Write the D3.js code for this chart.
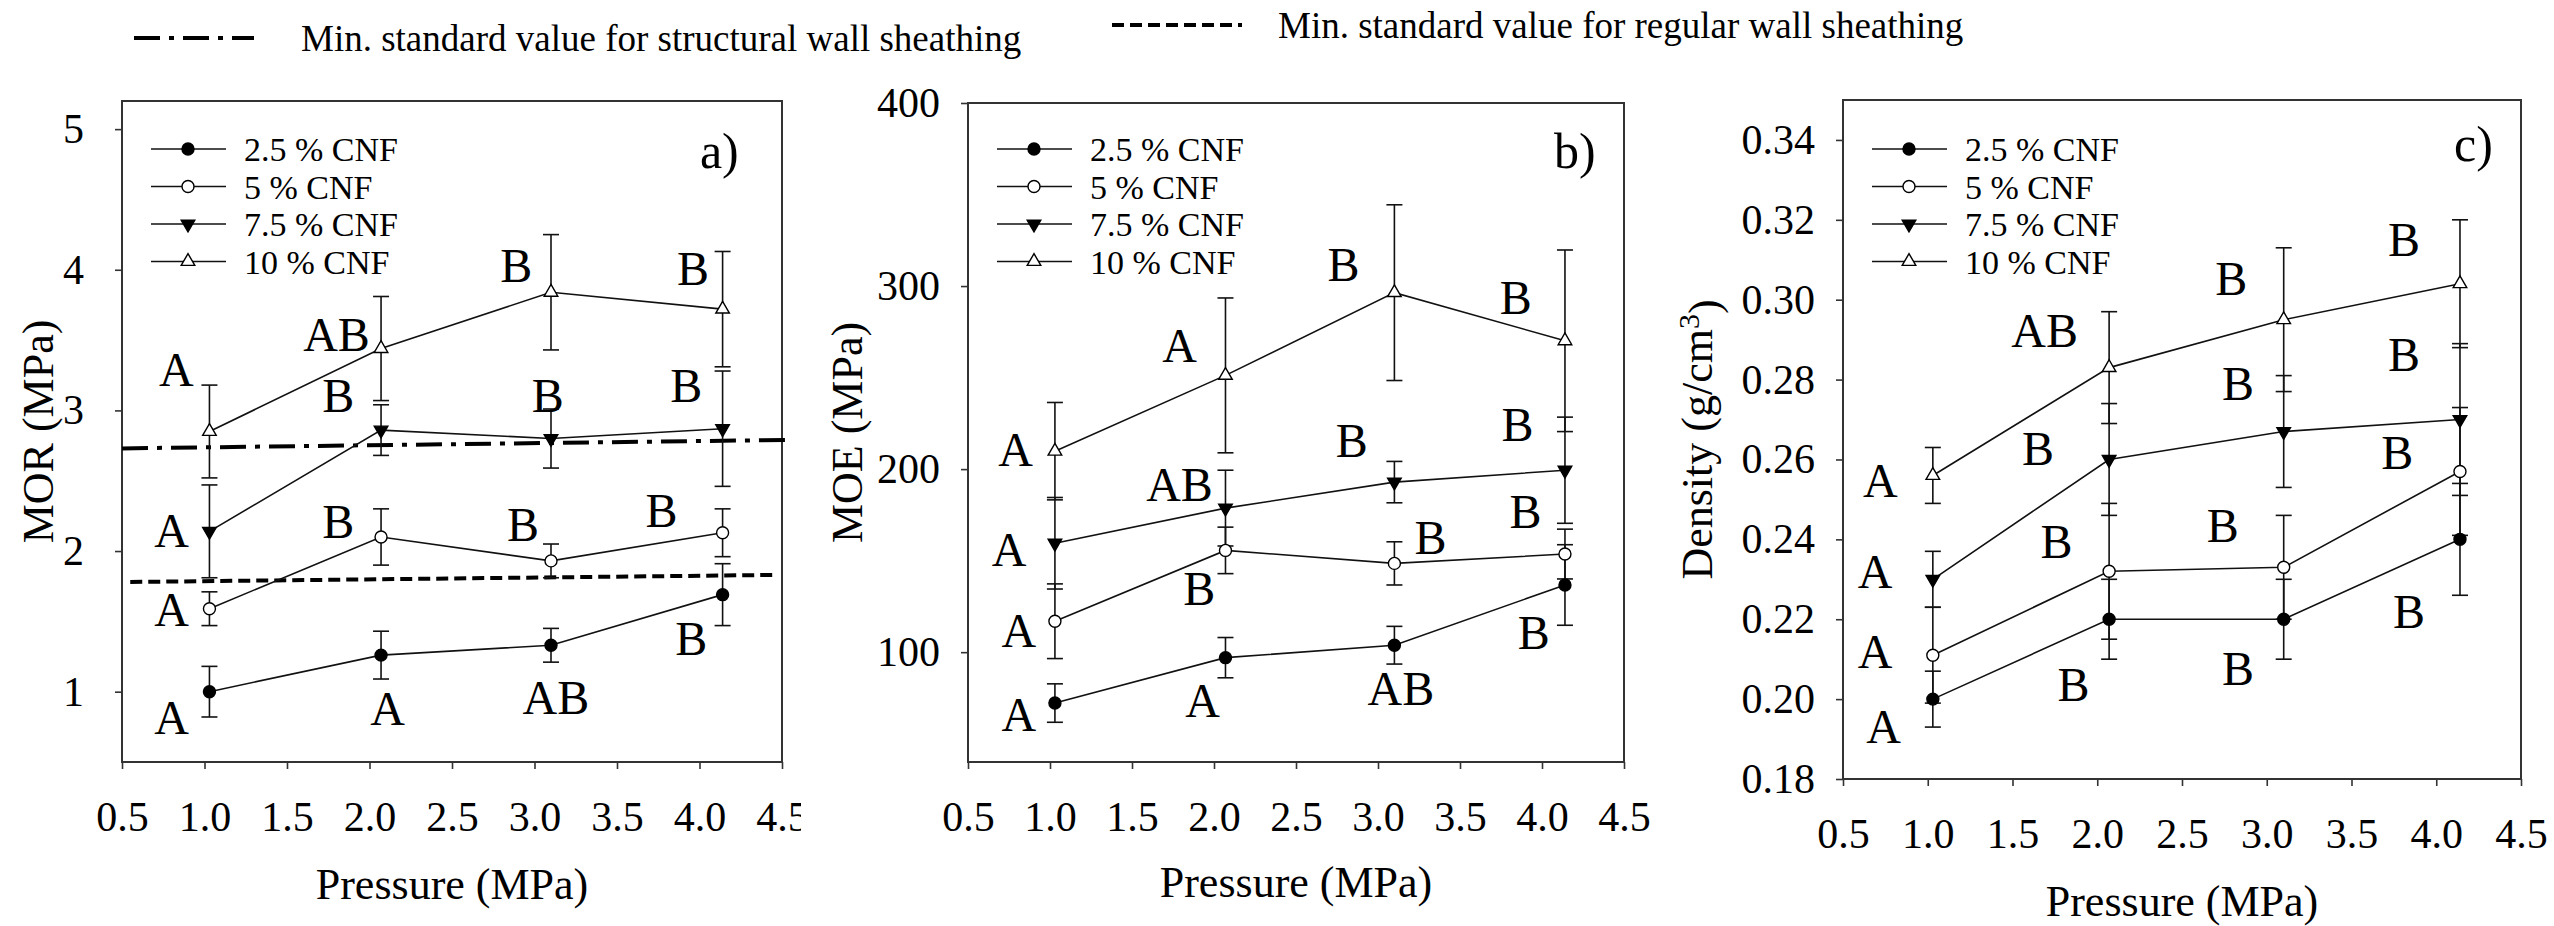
<!DOCTYPE html>
<html>
<head>
<meta charset="utf-8">
<script src="https://cdn.jsdelivr.net/npm/d3@7"></script>
<style>
  body { margin: 0; background: #fff; }
  text { font-family: "Liberation Serif", "Times New Roman", serif; fill: #000; }
</style>
</head>
<body>
<script>
// pressure levels (MPa) and series
const pressure = [1.03, 2.07, 3.10, 4.14];
const seriesNames = ["2.5 % CNF", "5 % CNF", "7.5 % CNF", "10 % CNF"];
const xTicks = [0.5, 1.0, 1.5, 2.0, 2.5, 3.0, 3.5, 4.0, 4.5];

// a) MOR (MPa)
const morMean = [
  [1.00, 1.26, 1.33, 1.69],
  [1.59, 2.10, 1.93, 2.13],
  [2.14, 2.86, 2.80, 2.87],
  [2.85, 3.44, 3.84, 3.72]
];
const morErr = [
  [0.18, 0.17, 0.12, 0.22],
  [0.12, 0.20, 0.12, 0.17],
  [0.33, 0.18, 0.21, 0.41],
  [0.33, 0.37, 0.41, 0.41]
];
const morTicks = [1, 2, 3, 4, 5];
// letter, pressure, value
const morLetters = [
  ["A", 0.80, 0.82], ["A", 2.11, 0.88], ["AB", 3.13, 0.96], ["B", 3.95, 1.38],
  ["A", 0.80, 1.59], ["B", 1.81, 2.21], ["B", 2.93, 2.19], ["B", 3.77, 2.29],
  ["A", 0.80, 2.15], ["B", 1.81, 3.11], ["B", 3.08, 3.11], ["B", 3.92, 3.18],
  ["A", 0.83, 3.29], ["AB", 1.80, 3.54], ["B", 2.89, 4.03], ["B", 3.96, 4.01]
];
// minimum standard values drawn across panel a
const structuralLine = [[0.5, 2.73], [4.52, 2.79]];
const regularLine = [[0.55, 1.78], [4.45, 1.83]];

// b) MOE (MPa)
const moeMean = [
  [72.2, 97.0, 103.8, 136.7],
  [116.9, 155.6, 148.5, 153.6],
  [159.5, 178.7, 192.9, 199.4],
  [209.8, 251.2, 296.4, 270.1]
];
const moeErr = [
  [10.5, 11.0, 10.3, 22.0],
  [20.4, 12.7, 11.8, 13.6],
  [25.0, 20.7, 11.3, 29.0],
  [26.6, 42.3, 48.0, 49.6]
];
const moeTicks = [100, 200, 300, 400];
const moeLetters = [
  ["A", 0.81, 66.3], ["A", 1.93, 73.7], ["AB", 3.14, 80.5], ["B", 3.95, 110.7],
  ["A", 0.81, 112.1], ["B", 1.91, 134.9], ["B", 3.32, 163.0], ["B", 3.90, 177.2],
  ["A", 0.75, 156.2], ["AB", 1.79, 192.0], ["B", 2.84, 215.7], ["B", 3.85, 224.6],
  ["A", 0.79, 210.7], ["A", 1.79, 267.5], ["B", 2.79, 311.8], ["B", 3.84, 294.1]
];

// c) Density (g/cm3)
const denMean = [
  [0.200, 0.220, 0.220, 0.240],
  [0.211, 0.232, 0.233, 0.257],
  [0.230, 0.260, 0.267, 0.270],
  [0.256, 0.283, 0.295, 0.304]
];
const denErr = [
  [0.007, 0.010, 0.010, 0.014],
  [0.012, 0.017, 0.013, 0.016],
  [0.007, 0.014, 0.014, 0.019],
  [0.007, 0.014, 0.018, 0.016]
];
const denTicks = [0.18, 0.20, 0.22, 0.24, 0.26, 0.28, 0.30, 0.32, 0.34];
const denLetters = [
  ["A", 0.74, 0.1931], ["B", 1.86, 0.2037], ["B", 2.83, 0.2077], ["B", 3.84, 0.2219],
  ["A", 0.69, 0.2119], ["B", 1.76, 0.2395], ["B", 2.74, 0.2436], ["B", 3.77, 0.2618],
  ["A", 0.69, 0.2321], ["B", 1.65, 0.2628], ["B", 2.83, 0.2790], ["B", 3.81, 0.2864],
  ["A", 0.72, 0.2548], ["AB", 1.69, 0.2923], ["B", 2.79, 0.3054], ["B", 3.81, 0.3152]
];

const width = 2554;
const height = 926;

const svg = d3.select("body")
  .append("svg")
  .attr("width", width)
  .attr("height", height);

// top legend for the two standard lines
const structDash = "26,9,5,9";
const regularDash = "12,6";
svg.append("line")
  .attr("x1", 134).attr("x2", 254).attr("y1", 38).attr("y2", 38)
  .attr("stroke", "#000").attr("stroke-width", 4).attr("stroke-dasharray", structDash);
svg.append("text")
  .attr("x", 301).attr("y", 51)
  .style("font-size", "37px")
  .text("Min. standard value for structural wall sheathing");
svg.append("line")
  .attr("x1", 1112).attr("x2", 1242).attr("y1", 25).attr("y2", 25)
  .attr("stroke", "#000").attr("stroke-width", 4).attr("stroke-dasharray", regularDash);
svg.append("text")
  .attr("x", 1278).attr("y", 38)
  .style("font-size", "37px")
  .text("Min. standard value for regular wall sheathing");

svg.append("defs").append("clipPath").attr("id", "clipA")
  .append("rect").attr("x", 0).attr("y", 0).attr("width", 801).attr("height", height);

const panels = [
  {
    label: "a)", left: 122, right: 782, top: 101, bottom: 762,
    yDomain: [0.5, 5.2], yTicks: morTicks, yFmt: d3.format("d"), yPad: 31,
    mean: morMean, err: morErr, letters: morLetters,
    labelPos: [4.12, 4.85], titleX: 38, titleY: 899, clip: "url(#clipA)"
  },
  {
    label: "b)", left: 968, right: 1624, top: 103, bottom: 762,
    yDomain: [40, 400], yTicks: moeTicks, yFmt: d3.format("d"), yPad: 21,
    mean: moeMean, err: moeErr, letters: moeLetters,
    labelPos: [4.20, 374], titleX: 847, titleY: 897, clip: null
  },
  {
    label: "c)", left: 1843, right: 2521, top: 100, bottom: 779,
    yDomain: [0.18, 0.35], yTicks: denTicks, yFmt: d3.format(".2f"), yPad: 21,
    mean: denMean, err: denErr, letters: denLetters,
    labelPos: [4.22, 0.3390], titleX: 1697, titleY: 916, clip: null
  }
];

const yTitles = ["MOR (MPa)", "MOE (MPa)", null];

panels.forEach((p, pi) => {
  const g = svg.append("g");
  const x = d3.scaleLinear().domain([0.5, 4.5]).range([p.left, p.right]);
  const y = d3.scaleLinear().domain(p.yDomain).range([p.bottom, p.top]);

  // x axis
  const gx = g.append("g")
    .attr("transform", `translate(0,${p.bottom})`)
    .call(d3.axisBottom(x).tickValues(xTicks).tickFormat(d3.format(".1f"))
      .tickSize(7).tickPadding(32));
  if (p.clip) gx.attr("clip-path", p.clip);

  // y axis
  const gy = g.append("g")
    .attr("transform", `translate(${p.left},0)`)
    .call(d3.axisLeft(y).tickValues(p.yTicks).tickFormat(p.yFmt)
      .tickSize(7).tickPadding(p.yPad));

  [gx, gy].forEach(a => {
    a.select(".domain").remove();
    a.selectAll("line").attr("stroke", "#333").attr("stroke-width", 1.6);
    a.selectAll("text").style("font-size", "42px")
      .style("font-family", '"Liberation Serif", "Times New Roman", serif');
  });

  // frame
  g.append("rect")
    .attr("x", p.left).attr("y", p.top)
    .attr("width", p.right - p.left).attr("height", p.bottom - p.top)
    .attr("fill", "none").attr("stroke", "#333").attr("stroke-width", 2);

  // axis titles
  g.append("text")
    .attr("x", (p.left + p.right) / 2).attr("y", p.titleY)
    .attr("text-anchor", "middle")
    .style("font-size", "44px")
    .text("Pressure (MPa)");

  const yt = g.append("text")
    .attr("transform", `translate(${p.titleX},${(p.top + p.bottom) / 2}) rotate(-90)`)
    .attr("text-anchor", "middle")
    .attr("dy", "0.35em")
    .style("font-size", "44px");
  if (yTitles[pi]) {
    yt.text(yTitles[pi]);
  } else {
    yt.append("tspan").text("Density (g/cm");
    yt.append("tspan").attr("dy", "-0.45em").style("font-size", "30px").text("3");
    yt.append("tspan").attr("dy", "0.45em").text(")");
  }

  // standard lines on panel a
  if (pi === 0) {
    const sl = d3.line().x(d => x(d[0])).y(d => y(d[1]));
    g.append("path").datum(structuralLine).attr("d", sl)
      .attr("fill", "none").attr("stroke", "#000").attr("stroke-width", 4)
      .attr("stroke-dasharray", structDash);
    g.append("path").datum(regularLine).attr("d", sl)
      .attr("fill", "none").attr("stroke", "#000").attr("stroke-width", 4)
      .attr("stroke-dasharray", regularDash);
  }

  const line = d3.line().x((d, i) => x(pressure[i])).y(d => y(d));

  // series lines
  p.mean.forEach(vals => {
    g.append("path").datum(vals).attr("d", line)
      .attr("fill", "none").attr("stroke", "#111").attr("stroke-width", 1.6);
  });

  // error bars
  p.mean.forEach((vals, si) => {
    vals.forEach((v, i) => {
      const e = p.err[si][i];
      const cx = x(pressure[i]);
      const eb = g.append("g").attr("stroke", "#111").attr("stroke-width", 1.6);
      eb.append("line").attr("x1", cx).attr("x2", cx).attr("y1", y(v - e)).attr("y2", y(v + e));
      eb.append("line").attr("x1", cx - 8).attr("x2", cx + 8).attr("y1", y(v - e)).attr("y2", y(v - e));
      eb.append("line").attr("x1", cx - 8).attr("x2", cx + 8).attr("y1", y(v + e)).attr("y2", y(v + e));
    });
  });

  // markers
  const marker = (sel, si) => {
    if (si === 0 || si === 1) {
      sel.append("circle").attr("r", 6)
        .attr("fill", si === 0 ? "#000" : "#fff")
        .attr("stroke", "#000").attr("stroke-width", 1.4);
    } else {
      sel.append("path")
        .attr("d", d3.symbol().type(d3.symbolTriangle).size(80)())
        .attr("transform", si === 2 ? "rotate(180)" : null)
        .attr("fill", si === 2 ? "#000" : "#fff")
        .attr("stroke", "#000").attr("stroke-width", 1.4);
    }
  };
  p.mean.forEach((vals, si) => {
    vals.forEach((v, i) => {
      const m = g.append("g").attr("transform", `translate(${x(pressure[i])},${y(v)})`);
      marker(m, si);
    });
  });

  // significance letters
  g.selectAll(".letter")
    .data(p.letters)
    .enter()
    .append("text")
    .attr("class", "letter")
    .attr("x", d => x(d[1]))
    .attr("y", d => y(d[2]))
    .attr("dy", "0.35em")
    .attr("text-anchor", "middle")
    .style("font-size", "48px")
    .text(d => d[0]);

  // panel label
  g.append("text")
    .attr("x", x(p.labelPos[0])).attr("y", y(p.labelPos[1]))
    .attr("dy", "0.35em")
    .attr("text-anchor", "middle")
    .style("font-size", "50px")
    .text(p.label);

  // legend
  const lg = g.append("g").attr("transform", `translate(${p.left},149)`);
  seriesNames.forEach((name, si) => {
    const row = lg.append("g").attr("transform", `translate(0,${si * 37.5})`);
    row.append("line").attr("x1", 29).attr("x2", 104).attr("y1", 0).attr("y2", 0)
      .attr("stroke", "#111").attr("stroke-width", 1.6);
    marker(row.append("g").attr("transform", "translate(66,0)"), si);
    row.append("text").attr("x", 122).attr("y", 12)
      .style("font-size", "34px").text(name);
  });
});
</script>
</body>
</html>
